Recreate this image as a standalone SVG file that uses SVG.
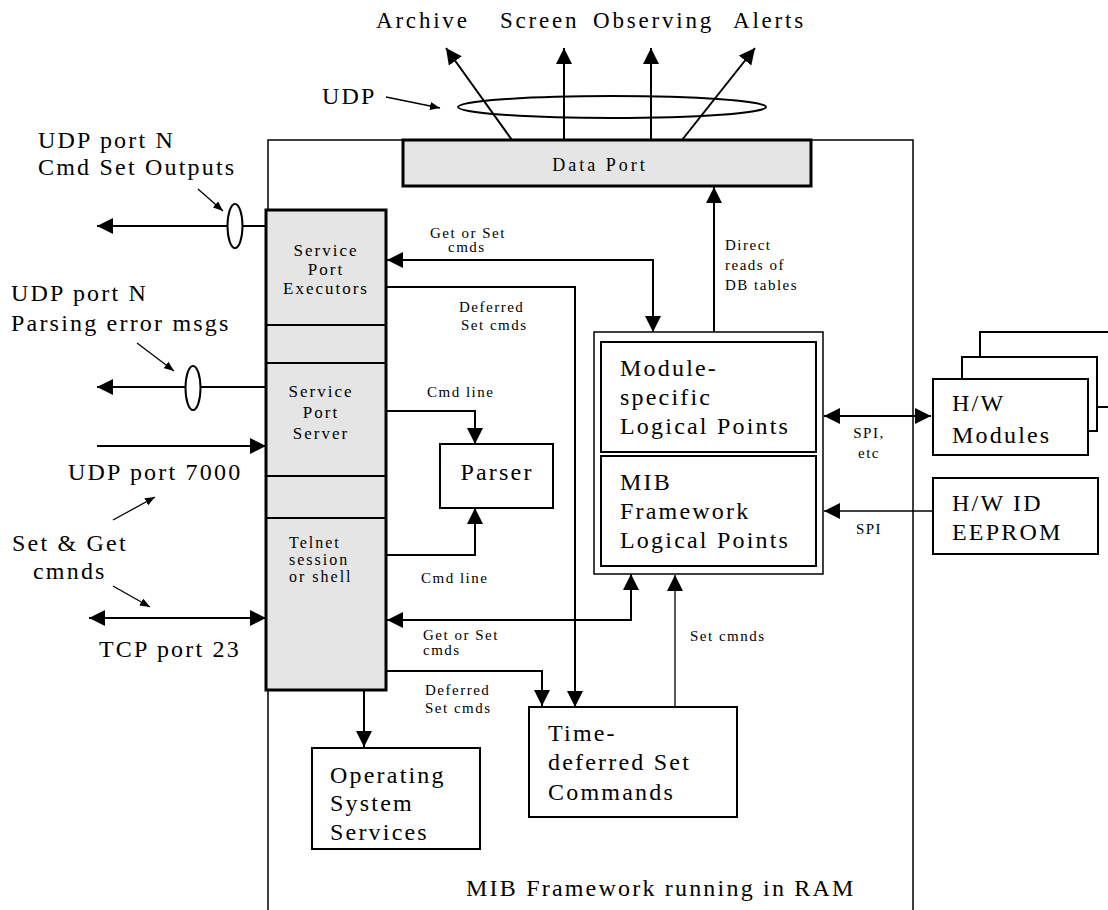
<svg xmlns="http://www.w3.org/2000/svg" width="1108" height="910" viewBox="0 0 1108 910">
  <style>
    text { font-family: "Liberation Serif", "Times New Roman", serif; fill: #000; }
    .big { font-size: 24px; letter-spacing: 2.2px; }
    .top { font-size: 23px; letter-spacing: 2.8px; }
    .mid { font-size: 17px; letter-spacing: 2px; }
    .tel { font-size: 16px; letter-spacing: 2px; }
    .sm { font-size: 15px; letter-spacing: 1.5px; }
    .box { fill: #fff; stroke: #000; stroke-width: 2; }
    .gray { fill: #e5e5e5; stroke: #000; stroke-width: 3; }
    .div { stroke: #000; stroke-width: 2; fill: none; }
    .ln { stroke: #000; stroke-width: 2; fill: none; }
    .thin { stroke: #000; stroke-width: 1.3; fill: none; }
    .c { text-anchor: middle; }
  </style>
  <defs>
    <marker id="ah" viewBox="0 0 16 16" refX="16" refY="8" markerWidth="16" markerHeight="16" markerUnits="userSpaceOnUse" orient="auto-start-reverse">
      <path d="M0,0 L16,8 L0,16 z" fill="#000"/>
    </marker>
    <marker id="ahs" viewBox="0 0 10 8" refX="10" refY="4" markerWidth="10" markerHeight="8" markerUnits="userSpaceOnUse" orient="auto">
      <path d="M0,0 L10,4 L0,8 z" fill="#000"/>
    </marker>
  </defs>

  <rect width="1108" height="910" fill="#fff"/>

  <!-- enclosing RAM frame -->
  <g id="ram-frame">
    <path d="M268,930 V140 H913 V930" class="thin" style="stroke-width:1.5"/>
    <text class="big" x="466" y="896">MIB Framework running in RAM</text>
  </g>

  <!-- outgoing UDP streams -->
  <g id="outputs">
    <text class="top" x="376" y="28">Archive</text>
    <text class="top" x="500" y="28">Screen</text>
    <text class="top" x="593" y="28">Observing</text>
    <text class="top" x="733" y="28">Alerts</text>
    <text class="big" x="322" y="104">UDP</text>
  </g>

  <g id="connectors">
    <!-- data port fan-out -->
    <line x1="512" y1="140" x2="446" y2="48" class="ln" marker-end="url(#ah)"/>
    <line x1="564" y1="140" x2="564" y2="48" class="ln" marker-end="url(#ah)"/>
    <line x1="651" y1="140" x2="651" y2="48" class="ln" marker-end="url(#ah)"/>
    <line x1="682" y1="140" x2="755" y2="48" class="ln" marker-end="url(#ah)"/>
    <ellipse cx="612" cy="107" rx="154" ry="11" class="ln"/>
    <line x1="386" y1="97" x2="440" y2="108" class="thin" marker-end="url(#ahs)"/>

    <!-- DB reads up to data port -->
    <line x1="714" y1="332" x2="714" y2="187" class="ln" marker-end="url(#ah)"/>

    <!-- service port outputs -->
    <line x1="266" y1="226" x2="97" y2="226" class="ln" marker-end="url(#ah)"/>
    <ellipse cx="235" cy="226" rx="7.5" ry="22" fill="#fff" stroke="#000" stroke-width="2"/>
    <line x1="198" y1="189" x2="223" y2="211" class="thin" marker-end="url(#ahs)"/>

    <line x1="266" y1="387" x2="97" y2="387" class="ln" marker-end="url(#ah)"/>
    <ellipse cx="193" cy="388" rx="7.5" ry="22" fill="#fff" stroke="#000" stroke-width="2"/>
    <line x1="137" y1="343" x2="174" y2="371" class="thin" marker-end="url(#ahs)"/>

    <!-- command inputs -->
    <line x1="97" y1="446" x2="266" y2="446" class="ln" marker-end="url(#ah)"/>
    <line x1="113" y1="520" x2="155" y2="497" class="thin" marker-end="url(#ahs)"/>
    <line x1="113" y1="586" x2="150" y2="607" class="thin" marker-end="url(#ahs)"/>
    <line x1="89" y1="618" x2="266" y2="618" class="ln" marker-start="url(#ah)" marker-end="url(#ah)"/>

    <!-- internal flows -->
    <line x1="322" y1="363" x2="322" y2="326" class="ln" marker-end="url(#ah)"/>
    <path d="M387,260 H653 V332" class="ln" marker-start="url(#ah)" marker-end="url(#ah)"/>
    <path d="M387,287 H575 V707" class="ln" marker-end="url(#ah)"/>
    <path d="M387,411 H475 V444" class="ln" marker-end="url(#ah)"/>
    <path d="M387,555 H475 V508" class="ln" marker-end="url(#ah)"/>
    <path d="M387,620 H631 V574" class="ln" marker-start="url(#ah)" marker-end="url(#ah)"/>
    <path d="M387,671 H542 V706" class="ln" marker-end="url(#ah)"/>
    <line x1="675" y1="707" x2="675" y2="575" class="thin" marker-end="url(#ah)"/>
    <line x1="364" y1="690" x2="364" y2="747" class="ln" marker-end="url(#ah)"/>

    <!-- hardware links -->
    <line x1="824" y1="416" x2="931" y2="416" class="ln" marker-start="url(#ah)" marker-end="url(#ah)"/>
    <line x1="932" y1="511" x2="824" y2="511" class="thin" marker-end="url(#ah)"/>

    <!-- connector labels -->
    <text class="sm" x="430" y="238">Get or Set</text>
    <text class="sm" x="448" y="252">cmds</text>
    <text class="sm" x="459" y="312">Deferred</text>
    <text class="sm" x="461" y="330">Set cmds</text>
    <text class="sm" x="427" y="397">Cmd line</text>
    <text class="sm" x="725" y="250">Direct</text>
    <text class="sm" x="725" y="270">reads of</text>
    <text class="sm" x="725" y="290">DB tables</text>
    <text class="sm c" x="869" y="438">SPI,</text>
    <text class="sm c" x="869" y="458">etc</text>
    <text class="sm c" x="869" y="534">SPI</text>
    <text class="sm" x="421" y="583">Cmd line</text>
    <text class="sm" x="423" y="640">Get or Set</text>
    <text class="sm" x="423" y="655">cmds</text>
    <text class="sm" x="425" y="695">Deferred</text>
    <text class="sm" x="425" y="713">Set cmds</text>
    <text class="sm" x="690" y="641">Set cmnds</text>

    <!-- port labels -->
    <text class="big" x="38" y="148">UDP port N</text>
    <text class="big" x="38" y="175">Cmd Set Outputs</text>
    <text class="big" x="11" y="301">UDP port N</text>
    <text class="big" x="11" y="331">Parsing error msgs</text>
    <text class="big" x="68" y="480">UDP port 7000</text>
    <text class="big" x="12" y="551">Set &amp; Get</text>
    <text class="big" x="33" y="579">cmnds</text>
    <text class="big" x="99" y="657">TCP port 23</text>
  </g>

  <g id="data-port">
    <rect x="403" y="140" width="408" height="46" class="gray"/>
    <text class="mid c" x="600" y="171" style="font-size:18px;letter-spacing:3px">Data Port</text>
  </g>

  <g id="service-column">
    <rect x="266" y="210" width="120" height="480" class="gray"/>
    <line x1="266" y1="325" x2="386" y2="325" class="div"/>
    <line x1="266" y1="363" x2="386" y2="363" class="div"/>
    <line x1="266" y1="476" x2="386" y2="476" class="div"/>
    <line x1="266" y1="518" x2="386" y2="518" class="div"/>
  </g>

  <g id="service-port-executors">
    <text class="mid c" x="326" y="256">Service</text>
    <text class="mid c" x="326" y="275">Port</text>
    <text class="mid c" x="326" y="294">Executors</text>
  </g>

  <g id="service-port-server">
    <text class="mid c" x="321" y="397">Service</text>
    <text class="mid c" x="321" y="418">Port</text>
    <text class="mid c" x="321" y="439">Server</text>
  </g>

  <g id="telnet-session">
    <text class="tel" x="289" y="548">Telnet</text>
    <text class="tel" x="289" y="565">session</text>
    <text class="tel" x="289" y="582">or shell</text>
  </g>

  <g id="parser">
    <rect x="440" y="444" width="113" height="64" class="box"/>
    <text class="big c" x="497" y="480">Parser</text>
  </g>

  <g id="logical-points">
    <rect x="594" y="332" width="229" height="242" fill="#fff" stroke="#000" stroke-width="1.5"/>
    <rect x="601" y="342" width="215" height="110" class="box"/>
    <rect x="601" y="456" width="215" height="110" class="box"/>
  </g>

  <g id="module-specific-points">
    <text class="big" x="620" y="376">Module-</text>
    <text class="big" x="620" y="405">specific</text>
    <text class="big" x="620" y="434">Logical Points</text>
  </g>

  <g id="framework-points">
    <text class="big" x="620" y="490">MIB</text>
    <text class="big" x="620" y="519">Framework</text>
    <text class="big" x="620" y="548">Logical Points</text>
  </g>

  <g id="hw-modules">
    <rect x="980" y="332" width="200" height="75" class="box"/>
    <rect x="962" y="357" width="135" height="74" class="box"/>
    <rect x="933" y="379" width="155" height="76" class="box"/>
    <text class="big" x="952" y="411">H/W</text>
    <text class="big" x="952" y="443">Modules</text>
  </g>

  <g id="hw-id-eeprom">
    <rect x="933" y="478" width="165" height="76" class="box"/>
    <text class="big" x="952" y="511">H/W ID</text>
    <text class="big" x="952" y="540">EEPROM</text>
  </g>

  <g id="time-deferred">
    <rect x="529" y="707" width="208" height="110" class="box"/>
    <text class="big" x="548" y="741">Time-</text>
    <text class="big" x="548" y="770">deferred Set</text>
    <text class="big" x="548" y="800">Commands</text>
  </g>

  <g id="os-services">
    <rect x="312" y="748" width="168" height="101" class="box"/>
    <text class="big" x="330" y="783">Operating</text>
    <text class="big" x="330" y="811">System</text>
    <text class="big" x="330" y="840">Services</text>
  </g>
</svg>
